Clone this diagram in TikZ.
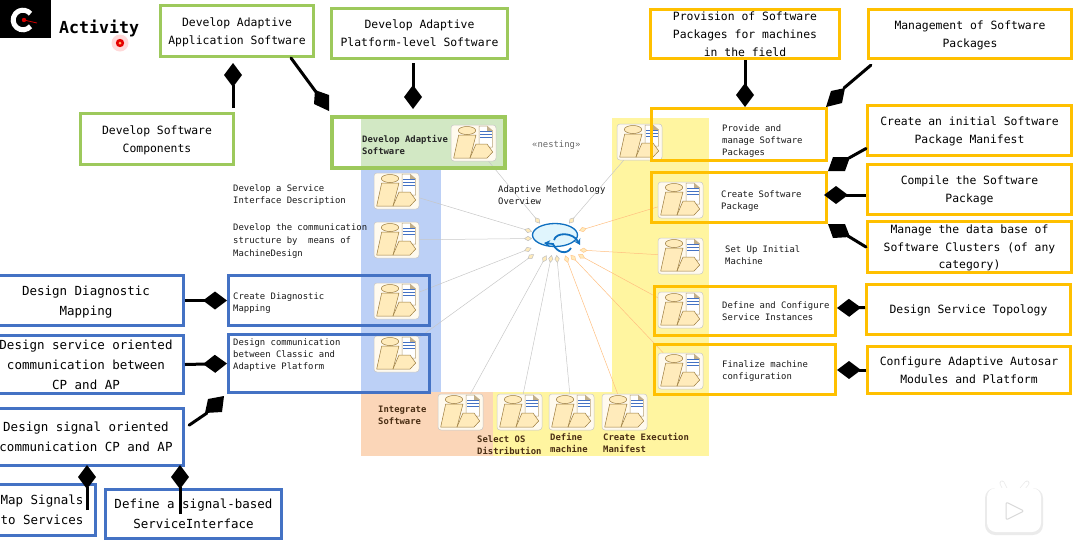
\documentclass[tikz,border=0pt]{standalone}
\usepackage{fontspec}
\setmainfont{DejaVu Sans Mono}
\usepackage{tikz}
\usetikzlibrary{shapes.geometric,arrows.meta,positioning,calc}
\definecolor{boxgreen}{HTML}{9DC95C}
\definecolor{boxyellow}{HTML}{FFC000}
\definecolor{boxblue}{HTML}{4472C4}
\definecolor{panelblue}{HTML}{BCD0F6}
\definecolor{panelyellow}{HTML}{FFF5A0}
\definecolor{panelorange}{HTML}{FBD6B8}
\definecolor{panelgreen}{HTML}{D2E8C4}
\definecolor{icontan}{HTML}{FFEBBB}
\definecolor{iconline}{HTML}{9A7A3C}
\definecolor{labelbrown}{HTML}{4A2E14}
\definecolor{hubblue}{HTML}{0F6FC0}

\begin{document}
\begin{tikzpicture}[
    x=1pt, y=-1pt,
    field/.style={draw, align=center, inner sep=0pt, line width=3pt, font=\fontsize{11.4}{17.8}\selectfont},
    greenfield/.style={field, draw=boxgreen},
    yellowfield/.style={field, draw=boxyellow},
    bluefield/.style={field, draw=boxblue, font=\fontsize{12.5}{20}\selectfont},
    steplabel/.style={anchor=west, align=left, inner sep=0pt, text=black!90, font=\fontsize{8.9}{12}\selectfont},
    boldlabel/.style={steplabel, text=labelbrown, font=\fontsize{8.9}{12}\selectfont\bfseries},
    iconbox/.style={draw=black!22, fill=icontan!25, rounded corners=3pt, line width=0.5pt, minimum width=45pt, minimum height=36pt, inner sep=0pt},
    iconpart/.style={draw=iconline, fill=icontan, line width=0.5pt, line join=round},
    greyline/.style={-{Diamond[length=8pt,width=5pt,fill=icontan,color=black!25]}, draw=black!22, line width=0.5pt},
    orangeline/.style={-{Diamond[length=8pt,width=5pt,fill=icontan,color=orange!45]}, draw=orange!50, line width=0.5pt},
    link/.style={line width=3pt, line cap=round},
    aggr/.style={-{Diamond[length=24pt,width=18pt]}, line width=3pt},
    pkgicon/.pic={
        \node[iconbox] (box) at (22.5,18) {};
        \draw[iconpart] (16,5.5) ellipse (8.7 and 4);
        \draw[iconpart] (7.7,10) -- (25,10) -- (19,33) -- (2.7,33) -- cycle;
        \draw[draw=iconline!70, fill=white, line width=0.5pt] (28,1) -- (36,1) -- (41.7,6) -- (41.7,22) -- (28,22) -- cycle;
        \fill[iconline!60] (36,1) -- (41.7,6) -- (36,6) -- cycle;
        \draw[boxblue, line width=0.7pt] (29,6.7) -- (40.5,6.7) (29,9.5) -- (40.5,9.5) (29,12.7) -- (40.5,12.7);
        \draw[iconpart] (25,19) -- (36,19) -- (41.7,27) -- (36,33) -- (19,33) -- cycle;
    }
]
\useasboundingbox (0,0) rectangle (1075,539);

% panels
\fill[panelblue] (361,170) rectangle (441,394);
\fill[panelyellow] (612,118) rectangle (709,456);
\fill[panelyellow] (493,392) rectangle (612,456);
\fill[panelorange] (361,392) rectangle (493,456);
\fill[panelgreen] (361,115) rectangle (507,170);

% logo and pointer
\node[fill=black, minimum width=51pt, minimum height=38pt, inner sep=0pt] (logo) at (25.5,19) {};
\draw[white, line width=5pt] (30.5,26.3) arc (40:320:9.8);
\draw[red!80!black, line width=0.8pt] (24,20) -- (37,23);
\fill[red!85!black] (24,20) circle (2.2);
\node[anchor=west, inner sep=0pt, font=\fontsize{16.6}{20}\selectfont\bfseries] (title) at (59,28) {Activity};
\fill[red, opacity=0.15] (120,43) circle (8.5);
\fill[red!90!black] (120,43) circle (4.2);
\fill[orange!60] (120,43) circle (1.5);

% icons
\pic (a0) at (451,125) {pkgicon};
\pic (a1) at (374,173) {pkgicon};
\pic (a2) at (374,222) {pkgicon};
\pic (a3) at (374,283) {pkgicon};
\pic (a4) at (374,336) {pkgicon};
\pic (b1) at (438,394) {pkgicon};
\pic (b2) at (497,394) {pkgicon};
\pic (b3) at (549,394) {pkgicon};
\pic (b4) at (602,394) {pkgicon};
\pic (c0) at (617,124) {pkgicon};
\pic (c1) at (658,182) {pkgicon};
\pic (c2) at (658,238) {pkgicon};
\pic (c3) at (658,292) {pkgicon};
\pic (c4) at (658,353) {pkgicon};

% hub
\node[ellipse, draw=hubblue, fill=cyan!12, line width=1.3pt, minimum width=45pt, minimum height=23pt, inner sep=0pt] (hub) at (555,235) {};
\coordinate (t1) at (540,223.5);
\coordinate (t2) at (532,231.6);
\coordinate (t3) at (532,238.5);
\coordinate (t4) at (531.5,248);
\coordinate (t5) at (534,254.3);
\coordinate (t6) at (546.5,255.3);
\coordinate (t7) at (551.6,255);
\coordinate (t8) at (556.7,255);
\coordinate (t9) at (565.2,255.4);
\coordinate (t10) at (570.5,254.9);
\coordinate (t11) at (578,254.4);
\coordinate (t12) at (579.6,250);
\coordinate (t13) at (579,230.7);
\coordinate (t14) at (569,223.5);

\draw[greyline] (a0box) -- (t1);
\draw[greyline] (a1box) -- (t2);
\draw[greyline] (a2box) -- (t3);
\draw[greyline] (a3box) -- (t4);
\draw[greyline] (a4box) -- (t5);
\draw[greyline] (b1box) -- (t6);
\draw[greyline] (b2box) -- (t7);
\draw[greyline] (b3box) -- (t8);
\draw[orangeline] (b4box) -- (t9);
\draw[orangeline] (c4box) -- (t10);
\draw[orangeline] (c3box) -- (t11);
\draw[orangeline] (c2box) -- (t12);
\draw[orangeline] (c1box) -- (t13);
\draw[greyline] (c0box) -- (t14);

\draw[-{Stealth[length=6pt,width=7pt]}, hubblue, line width=1.8pt] (554,240) .. controls (556,232) and (573,232) .. (580,245);
\draw[-{Stealth[length=6pt,width=7pt]}, hubblue, line width=1.8pt] (571,248) .. controls (567,255) and (557,253) .. (553,244) -- (544,243);

% green fields
\node[greenfield, text depth=-3pt, minimum width=153pt, minimum height=51pt] (app) at (237,31) {Develop Adaptive\\Application Software};
\node[greenfield, minimum width=176pt, minimum height=50pt] (plat) at (419.5,33.5) {Develop Adaptive\\Platform-level Software};
\node[greenfield, text depth=-3pt, minimum width=153pt, minimum height=51pt] (comp) at (157,139) {Develop Software\\Components};
\node[greenfield, line width=4pt, minimum width=173pt, minimum height=51pt] (adaptive) at (418.5,142.5) {};

% yellow fields
\node[yellowfield, minimum width=189pt, minimum height=49pt] (prov) at (745,34) {Provision of Software\\Packages for machines\\in the field};
\node[yellowfield, text depth=-1pt, minimum width=203pt, minimum height=49pt] (mgmt) at (970,34) {Management of Software\\Packages};
\node[yellowfield, minimum width=175pt, minimum height=52pt] (provide) at (739,134.5) {};
\node[yellowfield, minimum width=175pt, minimum height=50pt] (create) at (739,197.5) {};
\node[yellowfield, minimum width=181pt, minimum height=49pt] (define) at (745,311) {};
\node[yellowfield, minimum width=181pt, minimum height=50pt] (final) at (745,369.5) {};
\node[yellowfield, text depth=-3pt, minimum width=204pt, minimum height=50pt] (manifest) at (969.5,130.5) {Create an initial Software\\Package Manifest};
\node[yellowfield, text depth=-3pt, minimum width=204pt, minimum height=50pt] (compile) at (969.5,189.5) {Compile the Software\\Package};
\node[yellowfield, text depth=-2pt, minimum width=204pt, minimum height=51pt, font=\fontsize{11.4}{17.5}\selectfont] (manage) at (969.5,247) {Manage the data base of\\Software Clusters (of any\\category)};
\node[yellowfield, text depth=-5pt, minimum width=204pt, minimum height=50pt] (topology) at (968.5,309.5) {Design Service Topology};
\node[yellowfield, text depth=-3pt, minimum width=203pt, minimum height=47pt] (configure) at (969,370) {Configure Adaptive Autosar\\Modules and Platform};

% blue fields
\node[bluefield, minimum width=201pt, minimum height=50pt] (diag) at (329,300.5) {};
\node[bluefield, minimum width=201pt, minimum height=58pt] (comm) at (329,363.5) {};
\node[bluefield, text depth=-5pt, minimum width=195pt, minimum height=50pt] (mapping) at (86,300.5) {Design Diagnostic\\Mapping};
\node[bluefield, minimum width=195pt, minimum height=58pt] (service) at (86,364.5) {Design service oriented\\communication between\\CP and AP};
\node[bluefield, text depth=-1pt, minimum width=195pt, minimum height=57pt] (signal) at (86,437) {Design signal oriented\\communication CP and AP};
\node[bluefield, text depth=-4pt, minimum width=107pt, minimum height=51pt] (mapsig) at (42,510) {Map Signals\\to Services};
\node[bluefield, minimum width=176pt, minimum height=49pt] (defsig) at (193.5,514) {Define a signal-based\\ServiceInterface};

% labels
\node[boldlabel, text=black!85] (l0) at (362,144.5) {Develop Adaptive\\Software};
\node[steplabel, text=black!60] (l1) at (532,145.5) {«nesting»};
\node[steplabel] (l2) at (498,195) {Adaptive Methodology\\Overview};
\node[steplabel] (l3) at (233,195) {Develop a Service\\Interface Description};
\node[steplabel, font=\fontsize{8.9}{13}\selectfont] (l4) at (233,241) {Develop the communication\\structure by\ \ means of\\MachineDesign};
\node[steplabel] (l5) at (233,303) {Create Diagnostic\\Mapping};
\node[steplabel] (l6) at (233,355.5) {Design communication\\between Classic and\\Adaptive Platform};
\node[steplabel] (l7) at (722,141.5) {Provide and\\manage Software\\Packages};
\node[steplabel] (l8) at (721,201) {Create Software\\Package};
\node[steplabel] (l9) at (725,255) {Set Up Initial\\Machine};
\node[steplabel] (l10) at (722,311) {Define and Configure\\Service Instances};
\node[steplabel] (l11) at (722,371) {Finalize machine\\configuration};
\node[boldlabel] (l12) at (378,415) {Integrate\\Software};
\node[boldlabel] (l13) at (477,445) {Select OS\\Distribution};
\node[boldlabel] (l14) at (550,443) {Define\\machine};
\node[boldlabel] (l15) at (603,443) {Create Execution\\Manifest};

% thick links
\draw[aggr, shorten <=4pt, shorten >=5pt] ([xshift=76pt]comp.north) -- ([xshift=-4pt]app.south);
\draw[aggr, shorten <=3pt, shorten >=6pt] ([xshift=-6.5pt]plat.south) -- ([xshift=-6.5pt]plat.south |- adaptive.north);
\draw[aggr] ([xshift=6pt]provide.north |- prov.south) -- ([xshift=6pt]provide.north);
\draw[aggr, shorten >=-4pt] ([yshift=-5.5pt]compile.west) -- ([yshift=2.5pt]create.east);
\draw[aggr] ([yshift=2pt]topology.west) -- ([yshift=3pt]define.east);
\draw[aggr] (configure.west) -- ([yshift=-0.5pt]final.east);
\draw[aggr] (mapping.east) -- (diag.west);
\draw[aggr] (service.east) -- (comm.west);
\draw[aggr, shorten >=-2pt] ([xshift=45pt]mapsig.center) -- ([xshift=1pt]signal.south);
\draw[aggr, shorten >=-2pt] ([xshift=-13.5pt]defsig.center) -- ([xshift=94pt]signal.south);

% slanted links
\coordinate (k1) at (316,92);
\coordinate (k2) at (844,88);
\coordinate (k3) at (849,158);
\coordinate (k4) at (848,236);
\coordinate (k5) at (207,413);
\draw[link] ([xshift=54pt]app.south) -- (k1);
\fill (315,90) -- (329,95) -- (329,111) -- (314,104) -- cycle;
\draw[link, shorten <=8pt] ([xshift=-93pt]mgmt.south) -- (k2);
\fill (826,107) -- (831,91) -- (845,88) -- (842,103) -- cycle;
\draw[link] ([yshift=-18pt]manifest.west) -- (k3);
\fill (828,171) -- (833,157) -- (850,157) -- (845,171) -- cycle;
\draw[link] (manage.west) -- (k4);
\fill (828,224) -- (845,224) -- (850,237) -- (833,238) -- cycle;
\draw[link, shorten <=5pt] ([yshift=9pt]signal.east) -- (k5);
\fill (208,399) -- (224,396) -- (222,412) -- (205,413) -- cycle;

% player mark
\draw[black!8, line width=5pt, line cap=round] (1005,489) -- (1002,483);
\draw[black!8, line width=5pt, line cap=round] (1022,489) -- (1027,483);
\draw[black!8, line width=2pt, fill=black!8, rounded corners=9pt] (986,489) rectangle (1042,534);
\draw[white, line width=3.5pt, line cap=round] (1005,489) -- (1002,483);
\draw[white, line width=3.5pt, line cap=round] (1022,489) -- (1027,483);
\fill[white, rounded corners=9pt] (987,488) rectangle (1041,532);
\draw[black!15, fill=white, line width=1pt, line join=round, rounded corners=2pt] (1006,502) -- (1024,511) -- (1006,520) -- cycle;
\end{tikzpicture}
\end{document}
